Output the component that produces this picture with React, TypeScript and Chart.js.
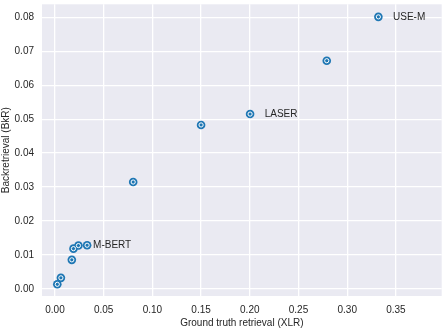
import React, { useEffect, useRef } from "react";
import { Chart, registerables } from "chart.js";

Chart.register(...registerables);

const xlr = [0.0024, 0.0061, 0.0173, 0.019, 0.0241, 0.033, 0.0803, 0.15, 0.2003, 0.279, 0.332];
const bkr = [0.0014, 0.0033, 0.0086, 0.0119, 0.0128, 0.0129, 0.0315, 0.0483, 0.0515, 0.0672, 0.0801];
const pointLabels = ["", "", "", "", "M-BERT", "", "", "", "LASER", "", "USE-M"];
const xTicks = [0, 0.05, 0.1, 0.15, 0.2, 0.25, 0.3, 0.35];
const yTicks = [0, 0.01, 0.02, 0.03, 0.04, 0.05, 0.06, 0.07, 0.08];
const xTitle = "Ground truth retrieval (XLR)";
const yTitle = "Backretrieval (BkR)";

const FONT = "'Liberation Sans', Arial, sans-serif";
const TEXT = "#262626";
const BLUE = "#1f77b4";
const LABEL_DX = 0.015;

const bgPlugin = {
  id: "bgPlugin",
  beforeDraw(chart: any) {
    const { ctx, chartArea } = chart;
    ctx.save();
    ctx.fillStyle = "#EAEAF2";
    ctx.fillRect(chartArea.left, chartArea.top, chartArea.right - chartArea.left, chartArea.bottom - chartArea.top);
    ctx.restore();
  },
};

const labelPlugin = {
  id: "labelPlugin",
  afterDatasetsDraw(chart: any) {
    const { ctx, scales } = chart;
    ctx.save();
    ctx.font = `10px ${FONT}`;
    ctx.fillStyle = TEXT;
    ctx.textAlign = "left";
    ctx.textBaseline = "middle";
    pointLabels.forEach((lab, i) => {
      if (!lab) return;
      const px = scales.x.getPixelForValue(xlr[i] + LABEL_DX);
      const py = scales.y.getPixelForValue(bkr[i]);
      ctx.fillText(lab, px, py);
    });
    ctx.restore();
  },
};

export default function App() {
  const ref = useRef<HTMLCanvasElement>(null);
  useEffect(() => {
    document.body.style.margin = "0";
    const pts = xlr.map((x, i) => ({ x, y: bkr[i] }));
    const chart = new Chart(ref.current!, {
      type: "scatter",
      data: {
        datasets: [
          { data: pts, pointRadius: 2.1, backgroundColor: BLUE, borderColor: "#ffffff", borderWidth: 1, pointHoverRadius: 2.1 },
          { data: pts, pointRadius: 4.3, backgroundColor: BLUE, borderWidth: 0, pointHoverRadius: 4.3 },
        ],
      },
      options: {
        animation: false,
        responsive: false,
        events: [],
        layout: { padding: { top: 2, right: 2, left: 0, bottom: 0 } },
        plugins: { legend: { display: false }, tooltip: { enabled: false } },
        scales: {
          x: {
            type: "linear",
            min: -0.0133,
            max: 0.397,
            afterBuildTicks(scale: any) {
              scale.ticks = xTicks.map((v) => ({ value: v }));
            },
            afterFit(scale: any) {
              scale.height = 34;
              scale.paddingLeft = 0;
              scale.paddingRight = 0;
            },
            grid: { color: "#ffffff", lineWidth: 1.3, drawTicks: false },
            border: { display: false },
            ticks: {
              padding: 8,
              color: TEXT,
              font: { family: FONT, size: 10 },
              callback: (v: any) => Number(v).toFixed(2),
            },
            title: { display: true, text: xTitle, color: TEXT, font: { family: FONT, size: 10 }, padding: { top: 0, bottom: 1 } },
          },
          y: {
            type: "linear",
            min: -0.00204,
            max: 0.0838,
            afterBuildTicks(scale: any) {
              scale.ticks = yTicks.map((v) => ({ value: v }));
            },
            afterFit(scale: any) {
              scale.width = 42;
              scale.paddingTop = 0;
              scale.paddingBottom = 0;
            },
            grid: { color: "#ffffff", lineWidth: 1.3, drawTicks: false },
            border: { display: false },
            ticks: {
              padding: 8,
              color: TEXT,
              font: { family: FONT, size: 10 },
              callback: (v: any) => Number(v).toFixed(2),
            },
            title: { display: true, text: yTitle, color: TEXT, font: { family: FONT, size: 10 }, padding: { top: 0, bottom: 0 } },
          },
        },
      },
      plugins: [bgPlugin, labelPlugin],
    });
    return () => chart.destroy();
  }, []);
  return <canvas ref={ref} width={446} height={330} style={{ display: "block" }} />;
}
